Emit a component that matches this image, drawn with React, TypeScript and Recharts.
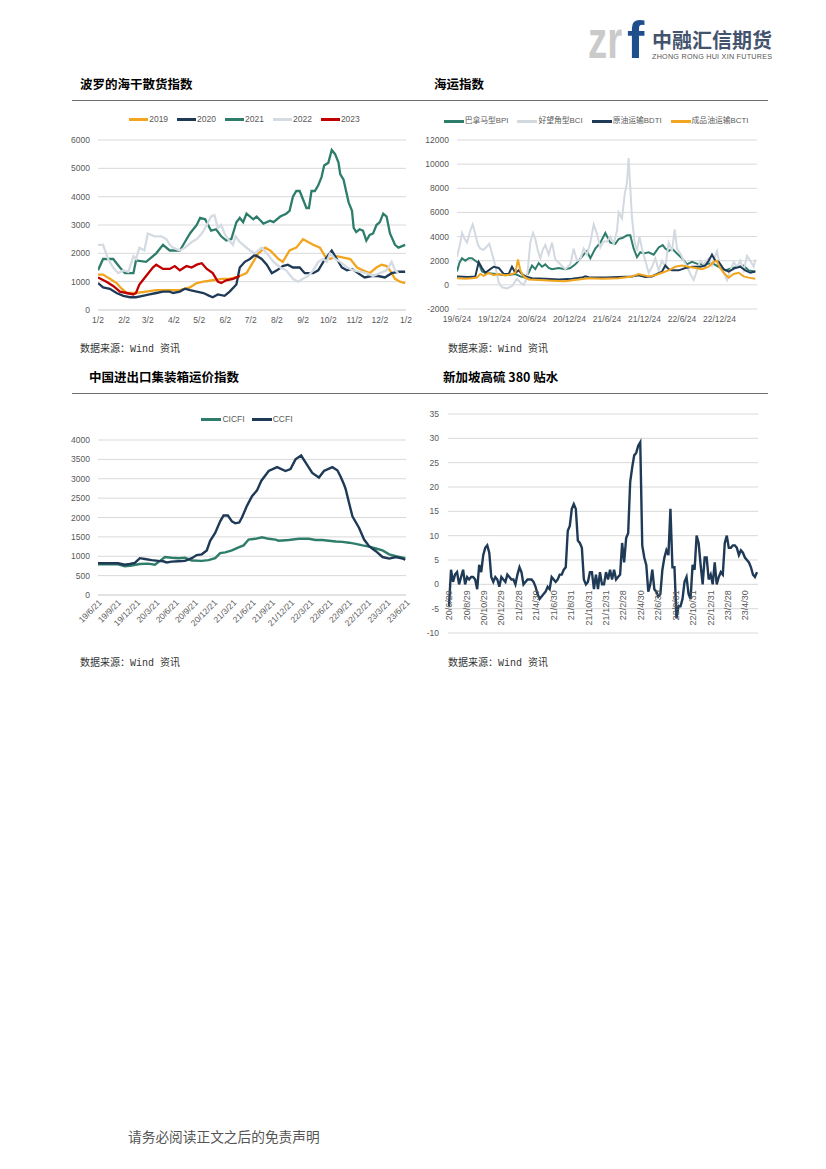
import React from 'react';
import { LineChart, Line, XAxis, YAxis, CartesianGrid, Legend } from 'recharts';

type Pt = [number, number];

// ---------------- Chart 1: 波罗的海干散货指数 (x = days since 1/2) ----------------
const bdiTickDays = [0, 31, 59, 90, 120, 151, 181, 212, 243, 273, 304, 334, 365];
const bdiTickLabels = ['1/2', '2/2', '3/2', '4/2', '5/2', '6/2', '7/2', '8/2', '9/2', '10/2', '11/2', '12/2', '1/2'];
const bdiYTicks = [0, 1000, 2000, 3000, 4000, 5000, 6000];

const bdi2019: Pt[] = [
  [0, 1250], [6, 1250], [14, 1100], [22, 950], [28, 750], [34, 600], [45, 600], [57, 650], [69, 700], [85, 700],
  [97, 700], [109, 800], [117, 950], [125, 1000], [136, 1050], [148, 1100], [156, 1100], [168, 1200], [176, 1300],
  [182, 1600], [190, 2000], [198, 2200], [204, 2100], [214, 1800], [219, 1700], [227, 2100], [235, 2200], [243, 2500],
  [249, 2400], [255, 2300], [263, 2200], [269, 1900], [275, 1800], [283, 1900], [291, 1850], [299, 1800], [307, 1500],
  [314, 1400], [322, 1300], [330, 1500], [336, 1600], [342, 1550], [346, 1400], [352, 1100], [358, 1000], [364, 950],
];
const bdi2020: Pt[] = [
  [0, 950], [6, 800], [14, 750], [22, 600], [30, 500], [38, 450], [45, 450], [53, 500], [61, 550], [69, 600],
  [77, 650], [85, 650], [89, 600], [97, 650], [103, 750], [109, 700], [117, 650], [125, 600], [132, 500], [136, 450],
  [142, 550], [150, 500], [156, 650], [164, 900], [168, 1500], [174, 1700], [180, 1800], [186, 1950], [194, 1800],
  [200, 1600], [206, 1300], [212, 1400], [219, 1550], [225, 1600], [231, 1500], [239, 1500], [245, 1300], [255, 1300],
  [261, 1400], [267, 1700], [277, 2100], [283, 1800], [289, 1500], [295, 1400], [301, 1450], [308, 1300], [316, 1150],
  [324, 1200], [332, 1200], [340, 1150], [348, 1300], [356, 1350], [364, 1350],
];
const bdi2021: Pt[] = [
  [0, 1400], [6, 1800], [18, 1800], [26, 1500], [32, 1300], [42, 1300], [45, 1750], [57, 1700], [69, 2000], [77, 2300],
  [85, 2100], [97, 2100], [103, 2400], [109, 2700], [117, 3000], [121, 3250], [127, 3200], [134, 2800], [140, 2850],
  [146, 2600], [152, 2450], [158, 2500], [164, 3100], [168, 3250], [172, 3100], [176, 3400], [184, 3200], [188, 3300],
  [196, 3050], [204, 3150], [208, 3100], [216, 3300], [223, 3400], [227, 3500], [231, 4000], [235, 4200], [239, 4200],
  [243, 3900], [247, 3600], [250, 3600], [253, 4200], [257, 4200], [261, 4400], [265, 4700], [268, 5100], [273, 5200],
  [277, 5650], [281, 5500], [285, 5200], [287, 4800], [291, 4600], [297, 3800], [301, 3500], [303, 2900], [306, 2750],
  [310, 2850], [314, 2800], [318, 2450], [322, 2650], [326, 2700], [330, 3000], [334, 3100], [338, 3400], [342, 3300],
  [346, 2700], [352, 2300], [356, 2200], [364, 2300],
];
const bdi2022: Pt[] = [
  [0, 2300], [6, 2300], [12, 1800], [18, 1500], [24, 1300], [30, 1400], [36, 1350], [42, 1900], [45, 1800], [49, 2200],
  [55, 2100], [59, 2700], [67, 2600], [75, 2600], [81, 2500], [85, 2300], [89, 2200], [97, 2100], [103, 2200], [111, 2400],
  [117, 2500], [123, 2700], [129, 3000], [134, 3300], [138, 3350], [142, 2900], [146, 3000], [150, 2700], [154, 2500],
  [160, 2300], [163, 2600], [168, 2400], [174, 2250], [180, 2100], [186, 2000], [190, 2100], [194, 2200], [200, 2000],
  [208, 1700], [216, 1500], [223, 1400], [231, 1100], [237, 1000], [243, 1100], [249, 1200], [255, 1400], [261, 1700],
  [267, 1800], [271, 1700], [275, 2000], [281, 1800], [287, 1700], [295, 1500], [303, 1400], [310, 1350], [318, 1300],
  [326, 1200], [334, 1300], [342, 1400], [348, 1700], [352, 1400], [356, 1300],
];
const bdi2023: Pt[] = [
  [0, 1150], [10, 1000], [18, 850], [26, 650], [34, 600], [42, 550], [45, 600], [49, 900], [57, 1200], [65, 1500],
  [69, 1600], [77, 1450], [85, 1450], [91, 1550], [97, 1400], [105, 1550], [111, 1500], [117, 1600], [123, 1650],
  [129, 1450], [136, 1300], [142, 1000], [146, 950], [152, 1050], [160, 1100], [168, 1200],
];

// ---------------- Chart 2: 海运指数 (x = months since 19/6/24) ----------------
const shipTickMonths = [0, 6, 12, 18, 24, 30, 36, 42];
const shipTickLabels = ['19/6/24', '19/12/24', '20/6/24', '20/12/24', '21/6/24', '21/12/24', '22/6/24', '22/12/24'];
const shipYTicks = [-2000, 0, 2000, 4000, 6000, 8000, 10000, 12000];

const bpi: Pt[] = [
  [0, 1100], [0.37, 1800], [0.8, 2200], [1.33, 2000], [1.87, 2200], [2.4, 2200], [2.93, 2000], [3.47, 1800], [4, 1100],
  [4.53, 1000], [6.13, 900], [7.73, 800], [9.33, 900], [10.13, 700], [10.93, 600], [11.47, 1000], [12, 1600], [12.53, 1300],
  [13.07, 1800], [13.6, 1500], [14.13, 1700], [14.67, 1400], [15.2, 1300], [16.27, 1400], [17.33, 1300], [18.13, 1400],
  [18.93, 1700], [19.47, 2000], [20.27, 2500], [20.8, 2800], [21.33, 2200], [22.13, 3000], [22.93, 3500], [23.73, 4300],
  [24.53, 3500], [25.33, 3400], [25.87, 3800], [26.51, 3900], [27.2, 4100], [27.73, 4100], [28.27, 3000], [28.8, 2300],
  [29.33, 2700], [29.87, 2600], [30.67, 2700], [31.47, 2500], [32.27, 3100], [32.91, 3300], [33.33, 3000], [33.87, 2800],
  [34.4, 3000], [35.2, 2600], [36, 2200], [36.8, 1700], [37.6, 1900], [38.67, 1700], [39.73, 1700], [40.8, 1800],
  [41.87, 1500], [42.93, 1200], [44, 1400], [45.07, 1500], [45.87, 1600], [46.67, 1200], [47.73, 1100],
];
const bci: Pt[] = [
  [0, 2300], [0.53, 3500], [0.8, 4300], [1.23, 3800], [1.6, 3500], [2.13, 4500], [2.51, 5000], [2.93, 4200], [3.36, 3300],
  [3.73, 3000], [4.27, 2900], [4.8, 3200], [5.17, 3400], [5.6, 2600], [6.03, 1800], [6.67, 200], [7.2, -200], [8, -300],
  [8.8, -100], [9.6, 500], [10.13, 200], [10.67, 0], [11.2, 600], [11.73, 3500], [12.16, 4300], [12.53, 3800], [12.96, 2800],
  [13.33, 2200], [13.71, 2900], [14.13, 3300], [14.67, 2500], [15.2, 3500], [15.73, 2100], [16.53, 1700], [17.33, 1300],
  [18.13, 1700], [18.67, 3000], [19.2, 2000], [19.73, 2100], [20.27, 3000], [20.8, 2500], [21.33, 3500], [21.87, 5000],
  [22.4, 4200], [22.93, 3100], [23.47, 3600], [24, 3600], [24.53, 4000], [25.07, 3400], [25.6, 4500], [25.87, 6000],
  [26.4, 5500], [26.83, 7500], [27.2, 8500], [27.47, 10500], [27.73, 8000], [28, 5500], [28.43, 3500], [28.8, 2800],
  [29.17, 4000], [29.6, 3000], [30.13, 2000], [30.67, 1000], [31.2, 1500], [31.73, 2200], [32.27, 1200], [32.8, 2000],
  [33.33, 1500], [33.87, 3500], [34.4, 2800], [34.83, 4600], [35.2, 3000], [35.73, 2600], [36.27, 2000], [36.8, 1500],
  [37.33, 900], [37.87, 400], [38.4, 1200], [38.93, 2000], [39.47, 1700], [40.27, 2200], [40.8, 1600], [41.6, 2800],
  [42.13, 1400], [42.67, 1000], [43.2, 400], [43.73, 1200], [44.27, 1900], [44.8, 1500], [45.33, 2000], [45.87, 1200],
  [46.4, 2400], [46.93, 2000], [47.47, 1500], [47.73, 2100],
];
const bdti: Pt[] = [
  [0, 700], [1.87, 650], [2.93, 700], [3.47, 1900], [4, 1400], [4.53, 1000], [5.33, 1300], [5.87, 1500], [6.67, 1400],
  [7.47, 900], [8.27, 900], [8.8, 1500], [9.33, 1000], [9.87, 1200], [10.4, 900], [10.93, 700], [12, 550], [14.13, 500],
  [16.27, 450], [18.4, 500], [20, 600], [20.53, 700], [21.33, 600], [23.73, 600], [25.87, 650], [28, 700], [29.07, 800],
  [30.13, 650], [31.2, 700], [32, 900], [32.8, 1100], [33.33, 1600], [33.87, 1300], [34.4, 1200], [35.47, 1200],
  [36.53, 1400], [37.6, 1500], [38.93, 1500], [39.73, 1600], [40.27, 2000], [40.8, 2500], [41.33, 2000], [41.87, 1900],
  [42.67, 1300], [43.47, 1100], [44.53, 1400], [45.33, 1500], [46.13, 1200], [46.93, 1000], [47.73, 1100],
];
const bcti: Pt[] = [
  [0, 550], [1.33, 500], [2.4, 550], [3.2, 600], [3.73, 900], [4.27, 750], [5.07, 1000], [5.87, 800], [6.67, 900],
  [7.73, 800], [8.53, 850], [9.33, 1000], [9.76, 2100], [10.13, 1200], [10.67, 700], [11.47, 450], [13.07, 400],
  [15.2, 350], [17.33, 300], [19.47, 450], [21.07, 550], [23.2, 500], [25.87, 550], [28, 700], [29.07, 900], [30.67, 700],
  [31.73, 800], [32.8, 1000], [33.87, 1200], [34.93, 1500], [36, 1600], [37.07, 1500], [38.13, 1400], [39.2, 1300],
  [40.27, 1500], [41.07, 1900], [41.6, 2000], [41.97, 1500], [42.67, 1000], [43.47, 600], [44.27, 900], [45.07, 1000],
  [45.87, 700], [46.67, 600], [47.73, 500],
];

// ---------------- Chart 3: 中国进出口集装箱运价指数 (x = months since 19/6/21) ----------------
const ccfiTickMonths = [0, 3, 6, 9, 12, 15, 18, 21, 24, 27, 30, 33, 36, 39, 42, 45, 48];
const ccfiTickLabels = [
  '19/6/21', '19/9/21', '19/12/21', '20/3/21', '20/6/21', '20/9/21', '20/12/21', '21/3/21', '21/6/21',
  '21/9/21', '21/12/21', '22/3/21', '22/6/21', '22/9/21', '22/12/21', '23/3/21', '23/6/21',
];
const ccfiYTicks = [0, 500, 1000, 1500, 2000, 2500, 3000, 3500, 4000];

const cicfi: Pt[] = [
  [0, 790], [3.13, 790], [4.17, 740], [5.22, 760], [6.52, 800], [7.82, 810], [8.87, 780], [9.65, 880], [10.43, 980],
  [11.48, 960], [12.52, 950], [13.56, 960], [14.61, 890], [16.17, 880], [17.21, 900], [18.26, 950], [19.04, 1080],
  [19.82, 1100], [20.87, 1150], [21.91, 1230], [22.69, 1280], [23.47, 1430], [24.52, 1450], [25.56, 1490], [26.6, 1450],
  [27.65, 1430], [28.17, 1400], [29.73, 1420], [31.3, 1450], [32.86, 1450], [33.91, 1420], [34.95, 1420], [35.99, 1400],
  [37.04, 1380], [38.08, 1370], [39.12, 1350], [40.17, 1320], [41.21, 1280], [42.25, 1250], [43.3, 1200], [44.34, 1150],
  [45.38, 1050], [46.43, 1000], [47.89, 950],
];
const ccfi: Pt[] = [
  [0, 820], [3.13, 820], [4.17, 780], [4.96, 800], [5.74, 830], [6.52, 950], [7.3, 930], [8.35, 900], [9.39, 880],
  [10.17, 870], [10.69, 840], [11.48, 860], [12.52, 870], [13.56, 880], [14.61, 950], [15.39, 1030], [16.17, 1050],
  [16.95, 1150], [17.48, 1400], [18.26, 1600], [19.04, 1900], [19.56, 2050], [20.24, 2050], [20.87, 1900], [21.39, 1850],
  [22.01, 1870], [22.43, 2000], [23.21, 2300], [24, 2550], [24.78, 2700], [25.46, 2950], [26.6, 3200], [27.91, 3300],
  [29.21, 3200], [30, 3250], [30.78, 3500], [31.66, 3600], [32.34, 3420], [33.39, 3150], [34.43, 3030], [35.21, 3200],
  [36.52, 3300], [37.3, 3220], [37.82, 3050], [38.34, 2850], [38.6, 2730], [39.12, 2380], [39.65, 2030], [40.69, 1730],
  [41.47, 1430], [42.25, 1260], [43.3, 1130], [44.34, 980], [45.38, 940], [46.43, 980], [47.47, 940], [47.89, 910],
];

// ---------------- Chart 4: 新加坡高硫 380 贴水 (weekly, from 20/6/29) ----------------
const hsfoWeekly = [
  -4.5, 3, 0.5, 2, 2.5, 0, 1.5, 3, 0, 1.5, 1, 1.5, 1.5, 1, -1, 4, 2.5, 6, 7.5, 8,
  6.5, 1.5, 0.5, 1.5, 1, -0.5, 1.5, 1, 0.5, 2, 1.5, 1, 1, 0, 2, 3.5, 2.5, 0, 0.5, 1,
  1, 1, 0.5, -0.5, -2, -3, -2.5, -2, -1.5, -0.5, -1, 1.5, 1, 0.5, 1, 2, 2, 3, 3.5, 11,
  12, 15.5, 16.5, 15.5, 9, 8.5, 7.5, 1, 0, 0.5, 2.5, 2.5, -1, 2, -1, 2.5, 0, 0, 2.5, 1,
  3, 1, 3, 1, 1.5, 2, 8.5, 4.5, 9.5, 10.5, 21, 24, 26.5, 27, 28.5, 29.2, 8, 5.5, 4, -1.5,
  0, 3, -1, -1.5, -2.5, -2, 3, 5.5, 7, 6, 15.5, 3.5, 3.5, -7, -4.5, -4.5, -3, 0.5, 1.5, -2,
  -3, 4, 3, 10, 8.5, 4, 0, 5.5, 5.5, 1, 2, 0, 4.5, 0, 1.5, 2.5, 2, 8.5, 10, 7.5,
  7.5, 8, 8, 7.5, 6, 7, 6.5, 5.5, 5, 4.5, 3.5, 2, 1.5, 2.5,
];
const hsfoTickWeeks = [0, 8.7, 17.3, 26, 34.6, 43.3, 52, 60.6, 69.3, 77.9, 86.6, 95.2, 103.9, 112.6, 121.2, 129.9, 138.5, 147.2];
const hsfoTickLabels = [
  '20/6/29', '20/8/29', '20/10/29', '20/12/29', '21/2/28', '21/4/30', '21/6/30', '21/8/31', '21/10/31',
  '21/12/31', '22/2/28', '22/4/30', '22/6/30', '22/8/31', '22/10/31', '22/12/31', '23/2/28', '23/4/30',
];
const hsfoYTicks = [-10, -5, 0, 5, 10, 15, 20, 25, 30, 35];

// ---------------- helpers ----------------
const NUM_FONT = '"Liberation Sans Narrow", "Liberation Sans", "Noto Sans CJK SC", sans-serif';
const CJK_FONT = '"Noto Sans CJK SC", "Liberation Sans", sans-serif';
const TICK_COLOR = '#595959';
const GRID = '#d9d9d9';

const toRows = (pts: Pt[]) => pts.map(([x, y]) => ({ x, y }));
const hsfoRows = hsfoWeekly.map((v, i) => ({ x: i, y: v }));

type Item = { name: string; color: string };

function LegendRow({ items, gap, swatch, shift, size }: { items: Item[]; gap: number; swatch: number; shift: number; size: number }) {
  return (
    <div
      style={{
        display: 'flex', justifyContent: 'center', alignItems: 'center', gap, paddingLeft: shift,
        fontFamily: NUM_FONT, fontSize: size, color: TICK_COLOR, whiteSpace: 'nowrap', height: 12, lineHeight: '12px',
      }}
    >
      {items.map((it, i) => (
        <div key={i} style={{ display: 'flex', alignItems: 'center' }}>
          <span style={{ display: 'inline-block', width: swatch, height: 3, background: it.color, marginRight: 1 }} />
          <span>{it.name}</span>
        </div>
      ))}
    </div>
  );
}

const tickStyle = { fontSize: 8.5, fill: TICK_COLOR, fontFamily: NUM_FONT };

function Text({ x, y, size, children, bold, color, font }: any) {
  return (
    <div
      style={{
        position: 'absolute', left: x, top: y - size / 2, fontSize: size, lineHeight: `${size}px`,
        fontWeight: bold ? 700 : 400, color: color || '#000', fontFamily: font || CJK_FONT, whiteSpace: 'nowrap',
      }}
    >
      {children}
    </div>
  );
}

// ---------------- chart 1 ----------------
const bdiSeries = [
  { name: '2019', color: '#f2a51f', pts: bdi2019 },
  { name: '2020', color: '#1f3a56', pts: bdi2020 },
  { name: '2021', color: '#2e7d6b', pts: bdi2021 },
  { name: '2022', color: '#d5dbe3', pts: bdi2022 },
  { name: '2023', color: '#c00000', pts: bdi2023 },
];

function BdiChart() {
  return (
    <div style={{ position: 'absolute', left: 60, top: 105, width: 360, height: 240 }}>
      <LineChart width={360} height={240} margin={{ top: 35, right: 14, bottom: 15, left: 0 }}>
        <CartesianGrid vertical={false} stroke={GRID} />
        <XAxis type="number" dataKey="x" domain={[0, 365]} ticks={bdiTickDays} interval={0}
          tickFormatter={(_v: any, i: number) => bdiTickLabels[i]} axisLine={{ stroke: GRID }} tickLine={false}
          tickSize={0} tickMargin={7} height={20} tick={tickStyle} allowDataOverflow />
        <YAxis type="number" domain={[0, 6000]} ticks={bdiYTicks} interval={0} axisLine={false} tickLine={false}
          tickSize={0} tickMargin={8} width={38} tick={tickStyle} />
        <Legend verticalAlign="middle" align="center" layout="horizontal"
          wrapperStyle={{ top: 8, left: 0, width: 360, height: 12 }}
          content={() => <LegendRow items={bdiSeries} gap={9} swatch={19} shift={9} size={8.5} />} />
        {bdiSeries.map((s) => (
          <Line key={s.name} data={toRows(s.pts)} dataKey="y" name={s.name} type="linear" stroke={s.color}
            strokeWidth={2.3} dot={false} activeDot={false} isAnimationActive={false} />
        ))}
      </LineChart>
    </div>
  );
}

// ---------------- chart 2 ----------------
const shipSeries = [
  { name: '巴拿马型BPI', color: '#2e7d6b', pts: bpi },
  { name: '好望角型BCI', color: '#d3d9e0', pts: bci },
  { name: '原油运输BDTI', color: '#1f3a56', pts: bdti },
  { name: '成品油运输BCTI', color: '#f2a51f', pts: bcti },
];

function ShipChart() {
  return (
    <div style={{ position: 'absolute', left: 400, top: 105, width: 370, height: 240 }}>
      <LineChart width={370} height={240} margin={{ top: 35, right: 13, bottom: 16, left: 0 }}>
        <CartesianGrid vertical={false} stroke={GRID} />
        <XAxis type="number" dataKey="x" domain={[0, 48]} ticks={shipTickMonths} interval={0}
          tickFormatter={(_v: any, i: number) => shipTickLabels[i]} axisLine={false} tickLine={false}
          tickSize={0} tickMargin={7} height={20} tick={tickStyle} allowDataOverflow />
        <YAxis type="number" domain={[-2000, 12000]} ticks={shipYTicks} interval={0} axisLine={false} tickLine={false}
          tickSize={0} tickMargin={8} width={57} tick={tickStyle} />
        <Legend verticalAlign="middle" align="center" layout="horizontal"
          wrapperStyle={{ top: 10, left: 0, width: 370, height: 12 }}
          content={() => <LegendRow items={shipSeries} gap={9} swatch={20} shift={22} size={7.8} />} />
        {shipSeries.map((s) => (
          <Line key={s.name} data={toRows(s.pts)} dataKey="y" name={s.name} type="linear" stroke={s.color}
            strokeWidth={2} dot={false} activeDot={false} isAnimationActive={false} />
        ))}
      </LineChart>
    </div>
  );
}

// ---------------- chart 3 ----------------
const ccfiSeries = [
  { name: 'CICFI', color: '#2e7d6b', pts: cicfi },
  { name: 'CCFI', color: '#1f3a56', pts: ccfi },
];

function CcfiChart() {
  return (
    <div style={{ position: 'absolute', left: 60, top: 400, width: 360, height: 260 }}>
      <LineChart width={360} height={260} margin={{ top: 40, right: 14, bottom: 15, left: 0 }}>
        <CartesianGrid vertical={false} stroke={GRID} />
        <XAxis type="number" dataKey="x" domain={[0, 48]} ticks={ccfiTickMonths} interval={0}
          tickFormatter={(_v: any, i: number) => ccfiTickLabels[i]} axisLine={{ stroke: GRID }} tickLine={false}
          tickSize={0} tickMargin={4} height={50} angle={-45} textAnchor="end" tick={tickStyle} allowDataOverflow />
        <YAxis type="number" domain={[0, 4000]} ticks={ccfiYTicks} interval={0} axisLine={false} tickLine={false}
          tickSize={0} tickMargin={8} width={38} tick={tickStyle} />
        <Legend verticalAlign="middle" align="center" layout="horizontal"
          wrapperStyle={{ top: 13, left: 0, width: 360, height: 12 }}
          content={() => <LegendRow items={ccfiSeries} gap={7} swatch={20} shift={14} size={8.5} />} />
        {ccfiSeries.map((s) => (
          <Line key={s.name} data={toRows(s.pts)} dataKey="y" name={s.name} type="linear" stroke={s.color}
            strokeWidth={2.4} dot={false} activeDot={false} isAnimationActive={false} />
        ))}
      </LineChart>
    </div>
  );
}

// ---------------- chart 4 ----------------
const HSFO_W = 370;
const HSFO_H = 250;
const HSFO_TOP = 14;
const HSFO_XH = 17;
const HSFO_MIN = -10;
const HSFO_MAX = 35;

function HsfoTick(props: any) {
  const { x, y, index } = props;
  const plotH = HSFO_H - HSFO_TOP - HSFO_XH;
  const lift = (plotH * (0 - HSFO_MIN)) / (HSFO_MAX - HSFO_MIN);
  const ty = y - lift + 6;
  return (
    <text x={x} y={ty} dy="0.35em" transform={`rotate(-90 ${x} ${ty})`} textAnchor="end"
      fontSize={9} fill={TICK_COLOR} fontFamily={NUM_FONT}>
      {hsfoTickLabels[index]}
    </text>
  );
}

function HsfoChart() {
  return (
    <div style={{ position: 'absolute', left: 400, top: 400, width: HSFO_W, height: HSFO_H }}>
      <LineChart width={HSFO_W} height={HSFO_H} margin={{ top: HSFO_TOP, right: 12, bottom: 0, left: 0 }}>
        <CartesianGrid vertical={false} stroke={GRID} />
        <XAxis type="number" dataKey="x" domain={[-0.5, 153.5]} ticks={hsfoTickWeeks} interval={0}
          axisLine={false} tickLine={false} tickSize={0} tickMargin={0} height={HSFO_XH}
          tick={<HsfoTick />} allowDataOverflow />
        <YAxis type="number" domain={[HSFO_MIN, HSFO_MAX]} ticks={hsfoYTicks} interval={0} axisLine={false}
          tickLine={false} tickSize={0} tickMargin={9} width={48} tick={tickStyle} />
        <Line data={hsfoRows} dataKey="y" name="新加坡高硫380贴水" type="linear" stroke="#1f3a56"
          strokeWidth={2.4} dot={false} activeDot={false} isAnimationActive={false} />
      </LineChart>
    </div>
  );
}

// ---------------- page ----------------
function Logo() {
  return (
    <svg style={{ position: 'absolute', left: 0, top: 0 }} width={826} height={70}>
      <text transform="translate(588 58) scale(0.74 1)" fontSize={52} fontWeight={700}
        fontFamily='"Liberation Sans", sans-serif' fill="#cacaca">zr</text>
      <text x={627} y={58} fontSize={52} fontWeight={700} fontFamily='"Liberation Sans", sans-serif' fill="#1f4e8c">f</text>
      <text x={652} y={48} fontSize={20} fontWeight={700} fontFamily={CJK_FONT} fill="#44536d"
        textLength={120} lengthAdjust="spacingAndGlyphs">中融汇信期货</text>
      <text x={652} y={59} fontSize={7.2} fontFamily='"Liberation Sans", sans-serif' fill="#555"
        textLength={120} lengthAdjust="spacing">ZHONG RONG HUI XIN FUTURES</text>
    </svg>
  );
}

export default function App() {
  const src = '数据来源：Wind 资讯';
  const srcFont = '"Liberation Mono", "Noto Sans CJK SC", monospace';
  return (
    <div style={{ position: 'absolute', left: 0, top: 0, width: 826, height: 1169, background: '#fff', overflow: 'hidden' }}>
      <Logo />
      <Text x={80} y={84} size={12.5} bold>波罗的海干散货指数</Text>
      <Text x={434} y={84} size={12.5} bold>海运指数</Text>
      <div style={{ position: 'absolute', left: 72, top: 99.5, width: 696, height: 1, background: '#6e6e6e' }} />
      <BdiChart />
      <ShipChart />
      <Text x={80} y={350} size={10} color="#333" font={srcFont}>{src}</Text>
      <Text x={448} y={350} size={10} color="#333" font={srcFont}>{src}</Text>

      <Text x={89} y={377} size={12.5} bold>中国进出口集装箱运价指数</Text>
      <Text x={443} y={377} size={12.5} bold>新加坡高硫 380 贴水</Text>
      <div style={{ position: 'absolute', left: 72, top: 392.5, width: 696, height: 1, background: '#6e6e6e' }} />
      <CcfiChart />
      <HsfoChart />
      <Text x={80} y={664} size={10} color="#333" font={srcFont}>{src}</Text>
      <Text x={448} y={664} size={10} color="#333" font={srcFont}>{src}</Text>

      <Text x={128} y={1137} size={13.7} color="#555">请务必阅读正文之后的免责声明</Text>
    </div>
  );
}
